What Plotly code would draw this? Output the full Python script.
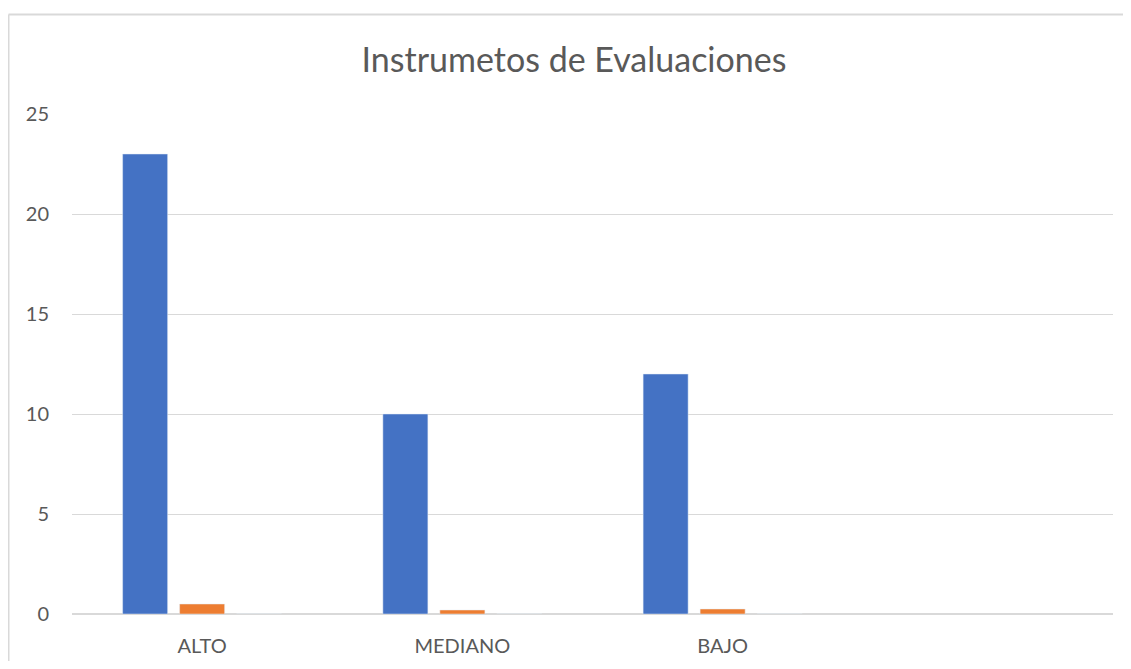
import plotly.graph_objects as go

categories = ["ALTO", "MEDIANO", "BAJO", " "]
serie1 = [23, 10, 12, None]
serie2 = [0.5, 0.2, 0.25, None]
serie3 = [0, 0, 0, None]
y_ticks = [0, 5, 10, 15, 20, 25]

# page body has an 8px margin, so the figure is sized to fit inside the window
W, H = 1115, 653
ml, mt = 64, 106
pw, ph = 1041, 500
mr, mb = W - ml - pw, H - mt - ph

FONT = "Lato, Open Sans, sans-serif"
TXT = "#595959"

fig = go.Figure()
fig.add_trace(go.Bar(x=categories, y=serie1, name="Serie 1", marker_color="#4472C4"))
fig.add_trace(go.Bar(x=categories, y=serie2, name="Serie 2", marker_color="#ED7D31"))
fig.add_trace(go.Bar(x=categories, y=serie3, name="Serie 3", marker_color="#A5A5A5"))

def px2x(p):
    return (p - ml) / pw

def py2y(p):
    return (H - mb - p) / ph

# chart-area border (left and top edges visible)
fig.add_shape(type="line", xref="paper", yref="paper",
              x0=px2x(0.5), x1=px2x(0.5), y0=py2y(6.5), y1=py2y(H + 5),
              line=dict(color="#d9d9d9", width=2), layer="below")
fig.add_shape(type="line", xref="paper", yref="paper",
              x0=px2x(0.5), x1=px2x(W + 5), y0=py2y(6.5), y1=py2y(6.5),
              line=dict(color="#d9d9d9", width=2), layer="below")

fig.update_layout(
    width=W, height=H,
    margin=dict(l=ml, r=mr, t=mt, b=mb, autoexpand=False),
    paper_bgcolor="white", plot_bgcolor="white",
    barmode="group", bargap=0.343, bargroupgap=0.21,
    showlegend=False,
    font=dict(family=FONT, color=TXT),
    title=dict(text="Instrumetos de Evaluaciones", x=px2x(566), xref="paper", xanchor="center",
               y=1 - 52 / H, yanchor="middle",
               font=dict(size=34, color=TXT, family=FONT)),
    xaxis=dict(showgrid=False, showline=False, ticks="", tickfont=dict(size=20, color=TXT),
               ticklabelstandoff=18, fixedrange=True),
    yaxis=dict(range=[0, 25], tickvals=y_ticks, showgrid=True, gridcolor="#d9d9d9", gridwidth=1,
               zeroline=True, zerolinecolor="#d9d9d9", zerolinewidth=2, showline=False, ticks="",
               tickfont=dict(size=20, color=TXT), ticklabelstandoff=22, fixedrange=True),
)

fig.write_html("out.html")
